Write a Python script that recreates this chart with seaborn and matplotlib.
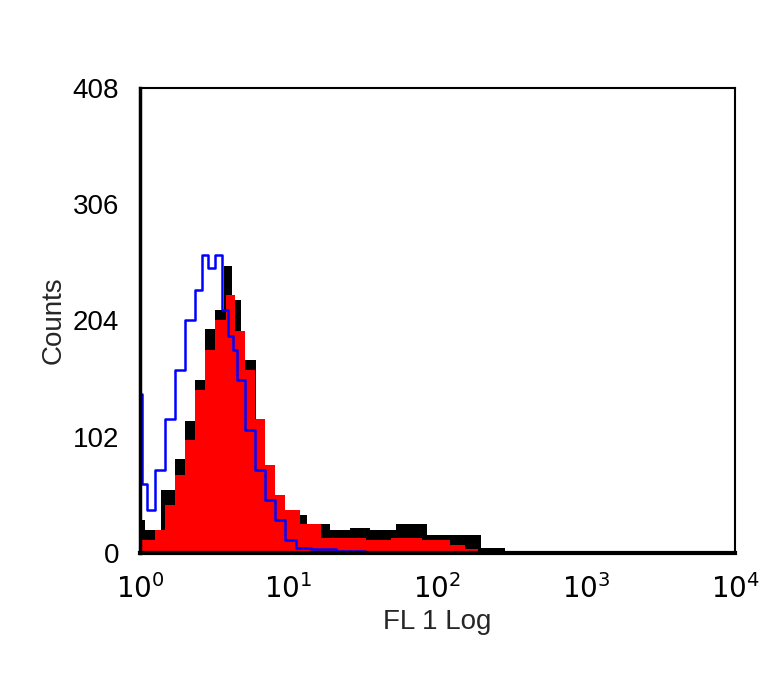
import matplotlib
matplotlib.use("Agg")
import matplotlib.pyplot as plt
import seaborn as sns
import numpy as np

sns.set_style("white")
plt.rcParams['font.family'] = ['Liberation Sans', 'DejaVu Sans']

# log10(FL1) positions and counts
blue_log = [0.00, 0.03, 0.07, 0.13, 0.20, 0.27, 0.34, 0.40, 0.44, 0.48, 0.53, 0.57, 0.61, 0.64, 0.67, 0.74, 0.81, 0.87, 0.94, 1.01, 1.08, 1.21, 1.41, 1.60]
blue_cnt = [139, 60, 38, 73, 117, 160, 204, 231, 261, 250, 261, 213, 190, 178, 152, 108, 73, 46, 29, 11, 4, 3, 2, 0]

black_log = [0.00, 0.07, 0.20, 0.27, 0.34, 0.40, 0.47, 0.54, 0.59, 0.65, 0.71, 0.84, 0.94, 1.01, 1.21, 1.34, 1.48, 1.61, 1.81, 2.02, 2.22, 2.36, 2.53, 2.57]
black_cnt = [29, 20, 55, 82, 116, 152, 196, 213, 252, 222, 169, 64, 46, 33, 25, 20, 22, 20, 25, 16, 16, 4, 2, 0]

red_log = [0.00, 0.07, 0.13, 0.20, 0.27, 0.34, 0.40, 0.47, 0.54, 0.61, 0.67, 0.74, 0.81, 0.87, 0.94, 1.01, 1.14, 1.28, 1.41, 1.61, 1.75, 2.01, 2.15, 2.22, 2.32]
red_cnt = [11, 11, 20, 42, 68, 99, 143, 178, 204, 226, 195, 160, 117, 77, 51, 38, 25, 13, 13, 11, 13, 11, 7, 3, 0]

fig = plt.figure(figsize=(7.64, 6.75), dpi=100)
ax = fig.add_axes([0.183, 0.181, 0.779, 0.689])

bx = 10 ** np.array(black_log)
rx = 10 ** np.array(red_log)
ux = 10 ** np.array(blue_log)
ax.fill_between(bx, black_cnt, step="mid", color="black", lw=0)
ax.fill_between(rx, red_cnt, step="mid", color="#ff0000", lw=0)
ax.step(ux, blue_cnt, where="mid", color="#0000ff", lw=1.8)

ax.set_xscale("log")
ax.set_xlim(1, 1e4)
ax.set_ylim(0, 408)
ax.set_yticks([0, 102, 204, 306, 408])
ax.set_xticks([1, 10, 100, 1000, 10000])
ax.set_xticklabels([r"$10^{0}$", r"$10^{1}$", r"$10^{2}$", r"$10^{3}$", r"$10^{4}$"])
ax.minorticks_off()
for s in ax.spines.values():
    s.set_color("black")
    s.set_linewidth(1.5)
ax.spines["bottom"].set_linewidth(3)
ax.spines["left"].set_linewidth(2.5)
ax.tick_params(direction="out", length=9, width=2.5, labelsize=20, colors="black", pad=6)
ax.set_xlabel("FL 1 Log", fontsize=20, labelpad=4)
ax.set_ylabel("Counts", fontsize=20, labelpad=4)
fig.savefig("out.png", dpi=100)
